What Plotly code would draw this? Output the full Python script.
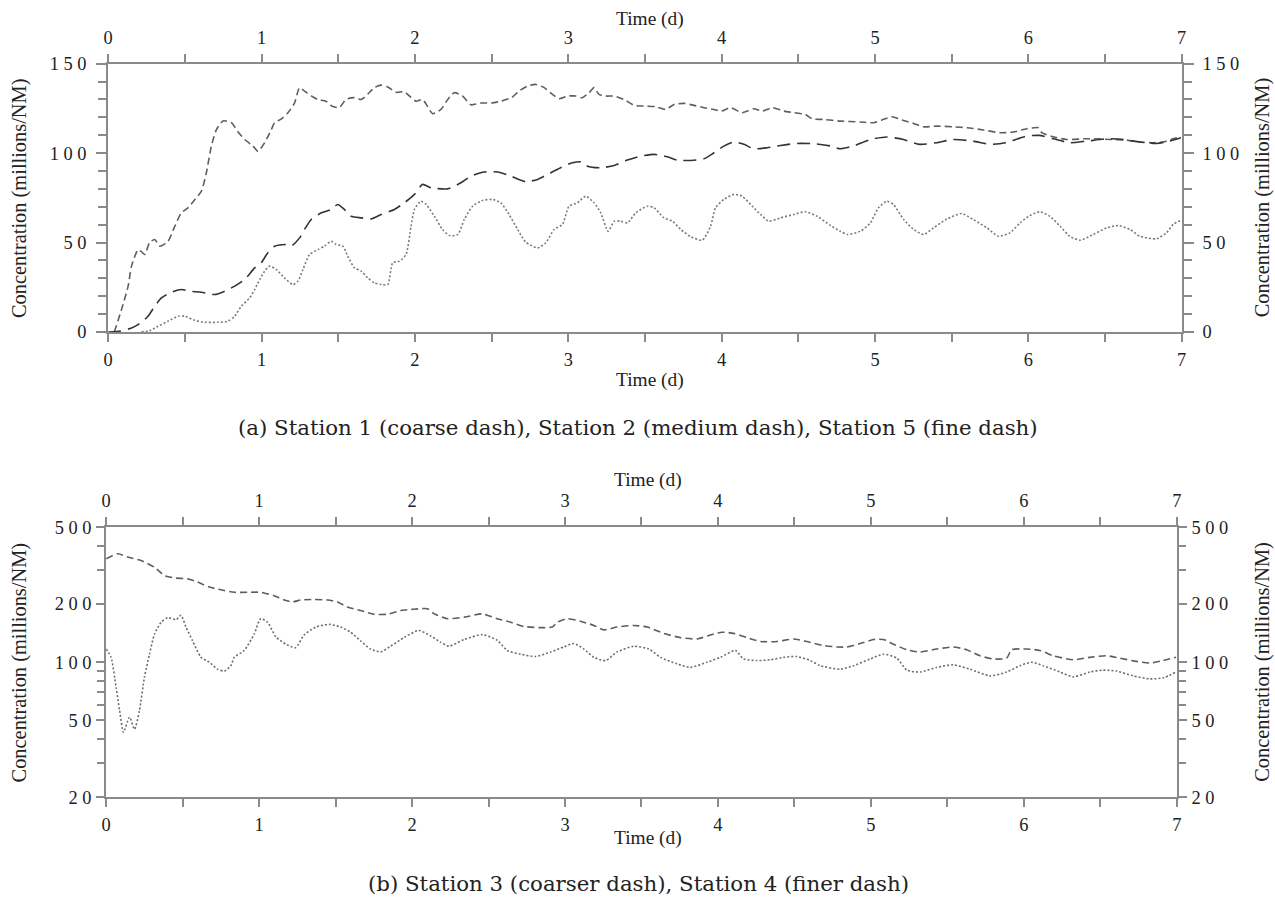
import plotly.graph_objects as go

# ---------------- Panel (a): stations 1, 2 and 5 (linear scale) ----------------
t_s1 = [0.04, 0.087, 0.13, 0.152, 0.195, 0.215, 0.239, 0.27, 0.304, 0.336, 0.39, 0.434, 0.477,
        0.52, 0.564, 0.608, 0.64, 0.673, 0.705, 0.749, 0.803, 0.846, 0.89, 0.944, 0.977, 1.02,
        1.063, 1.085, 1.128, 1.172, 1.215, 1.248, 1.28, 1.324, 1.367, 1.42, 1.465, 1.508, 1.55,
        1.6, 1.65, 1.693, 1.736, 1.78, 1.823, 1.877, 1.93, 1.964, 2.007, 2.05, 2.083, 2.116,
        2.17, 2.214, 2.257, 2.31, 2.365, 2.43, 2.5, 2.56, 2.63, 2.68, 2.735, 2.79, 2.843, 2.897,
        2.94, 2.995, 3.05, 3.09, 3.136, 3.168, 3.2, 3.245, 3.3, 3.363, 3.43, 3.494, 3.57, 3.635,
        3.69, 3.754, 3.82, 3.884, 3.95, 4.0, 4.058, 4.134, 4.21, 4.264, 4.33, 4.405, 4.47, 4.546,
        4.59, 4.666, 4.774, 4.905, 4.991, 5.046, 5.11, 5.176, 5.252, 5.317, 5.404, 5.512, 5.6,
        5.708, 5.816, 5.903, 5.99, 6.066, 6.088, 6.163, 6.25, 6.36, 6.447, 6.534, 6.64, 6.727,
        6.814, 6.879, 6.944, 6.995]
c_s1 = [0, 12.5, 25.6, 36.8, 46, 45, 43.3, 50, 51.7, 48, 50.7, 59, 66.6,
        69.4, 73.9, 78.7, 89, 104, 113, 118, 117, 112, 107.6, 104, 101, 105.8,
        113, 117, 119, 122.6, 128, 136.6, 134.7, 132, 130, 129, 126, 125.5, 130,
        131, 130, 133, 136.6, 138, 137, 134, 134.3, 132, 129, 130, 126, 122,
        124.4, 130, 133.8, 132, 127, 128, 128, 129, 131, 134.7, 137.5, 138.4, 136.6, 132.8,
        130.4, 131.9, 131.9, 131, 133.8, 136.6, 132.8, 131.9, 131.9, 130, 126.7, 126.3, 126, 124.4,
        127.2, 127.8, 126.7, 125.4, 124.4, 123.5, 125.4, 122.6, 124.8, 123.5, 125.4, 123.5, 122.6, 121.6,
        119.2, 118.8, 117.9, 117.4, 117, 118.5, 120.3, 118.5, 116.6, 114.7, 115.1, 114.7, 114.2,
        112.9, 111.4, 111.8, 113.6, 114.2, 111.4, 109.1, 107.6, 108, 108, 107.6, 107.3, 106.2,
        105.8, 106.2, 108, 109.1]

t_s2 = [0.0, 0.08, 0.152, 0.195, 0.26, 0.304, 0.347, 0.412, 0.477, 0.53, 0.608, 0.694, 0.76,
        0.825, 0.89, 0.955, 0.998, 1.04, 1.085, 1.15, 1.194, 1.248, 1.28, 1.324, 1.39, 1.454,
        1.497, 1.54, 1.584, 1.65, 1.714, 1.78, 1.866, 1.931, 1.997, 2.05, 2.105, 2.214, 2.3,
        2.365, 2.452, 2.54, 2.626, 2.723, 2.8, 2.865, 2.95, 3.027, 3.09, 3.125, 3.212, 3.3,
        3.385, 3.472, 3.56, 3.646, 3.71, 3.8, 3.884, 3.95, 4.015, 4.08, 4.145, 4.21, 4.297,
        4.384, 4.493, 4.61, 4.71, 4.774, 4.86, 4.97, 5.077, 5.186, 5.29, 5.4, 5.51, 5.64,
        5.75, 5.85, 5.99, 6.07, 6.163, 6.27, 6.38, 6.51, 6.62, 6.727, 6.836, 6.92, 6.995]
c_s2 = [0, 0.5, 2.2, 4.1, 8.8, 14.4, 19, 22.2, 23.7, 22.8, 22.2, 20.9, 22.8,
        25.6, 29.3, 35.8, 38.6, 44.2, 47.9, 48.9, 48, 52.6, 57.3, 62.9, 66.6, 68.5,
        71.3, 68.5, 64.7, 63.8, 63.2, 65.7, 68.5, 72.2, 76.9, 82.5, 80.6, 80, 83.4,
        87.1, 89.4, 89.4, 87.1, 84, 85.3, 88.1, 91.8, 94.6, 95.1, 92.7, 91.8, 93.1,
        96.1, 98.3, 99.3, 98, 96.1, 95.9, 96.8, 100.2, 103.9, 106.2, 104.9, 102.4, 103,
        104.3, 105.4, 105.2, 104, 102.4, 104, 107.6, 109, 107.6, 104.9, 105.8, 107.6, 106.7,
        104.9, 105.8, 109.5, 109.9, 108, 105.8, 106.7, 108, 107.6, 106.2, 105.4, 106.7, 108.6]

t_s5 = [0.217, 0.27, 0.326, 0.39, 0.456, 0.5, 0.564, 0.629, 0.716, 0.78, 0.825, 0.868, 0.922,
        0.955, 0.988, 1.02, 1.052, 1.096, 1.15, 1.204, 1.237, 1.27, 1.313, 1.367, 1.41, 1.454,
        1.486, 1.53, 1.562, 1.606, 1.65, 1.693, 1.736, 1.78, 1.823, 1.855, 1.9, 1.942, 1.975,
        1.997, 2.04, 2.073, 2.127, 2.18, 2.226, 2.28, 2.322, 2.376, 2.44, 2.506, 2.56, 2.614,
        2.67, 2.723, 2.8, 2.853, 2.908, 2.962, 3.005, 3.06, 3.114, 3.168, 3.212, 3.26, 3.3,
        3.342, 3.386, 3.44, 3.516, 3.56, 3.624, 3.68, 3.733, 3.8, 3.874, 3.928, 3.96, 4.015,
        4.08, 4.134, 4.2, 4.254, 4.308, 4.384, 4.47, 4.546, 4.622, 4.71, 4.774, 4.818, 4.905,
        4.97, 5.023, 5.077, 5.12, 5.187, 5.252, 5.317, 5.382, 5.47, 5.566, 5.64, 5.73, 5.805,
        5.88, 5.946, 6.01, 6.076, 6.14, 6.207, 6.27, 6.337, 6.424, 6.51, 6.587, 6.663, 6.727,
        6.836, 6.9, 6.944, 6.995]
c_s5 = [0, 0.7, 3.2, 6, 8.8, 8.8, 6.5, 5.4, 5.4, 6, 8.8, 14.4, 19,
        23.7, 29.3, 34, 36.8, 34.9, 30.2, 26.5, 28.4, 34.9, 43.3, 46, 48, 50.7,
        48.9, 48, 42.4, 35.8, 34, 30.2, 27.4, 26.5, 26.5, 38.6, 39.6, 43.3, 59.1,
        68.5, 73.1, 71.3, 64.7, 57.3, 53.9, 54.5, 62.9, 70.3, 73.5, 74.1, 72.2, 65.7,
        57.3, 50.2, 47, 49.8, 57.3, 60.1, 70.3, 72.2, 75.9, 72.2, 66.6, 56.3, 61.9,
        61.9, 61, 66.6, 70.3, 69.4, 63.8, 61.9, 57.3, 53.2, 51.3, 59.1, 69.4, 74.1,
        76.9, 75.9, 70.3, 65.7, 61.9, 63.8, 65.7, 67.2, 64.7, 59.5, 56.3, 54.5, 56.3,
        61, 69.4, 73.1, 71.3, 62.9, 57.3, 54.5, 58.2, 63.2, 66.2, 62.9, 58.2, 53.5,
        55.4, 61, 65.1, 67.2, 64.7, 59.1, 53.5, 51.3, 54.5, 58.2, 59.5, 57.3, 53.5,
        52.1, 55.4, 60.1, 62.5]

# ---------------- Panel (b): stations 3 and 4 (log scale) ----------------
t_s3 = [0.0, 0.076, 0.141, 0.228, 0.316, 0.38, 0.446, 0.533, 0.598, 0.674, 0.75, 0.837, 0.924,
        1.01, 1.098, 1.164, 1.217, 1.272, 1.358, 1.448, 1.512, 1.577, 1.663, 1.75, 1.837, 1.924,
        2.011, 2.1, 2.145, 2.231, 2.34, 2.459, 2.557, 2.645, 2.732, 2.841, 2.916, 2.95, 3.015,
        3.1, 3.189, 3.254, 3.34, 3.45, 3.537, 3.646, 3.755, 3.864, 3.961, 4.027, 4.103, 4.19,
        4.279, 4.386, 4.495, 4.58, 4.69, 4.778, 4.843, 4.93, 5.017, 5.082, 5.148, 5.235, 5.322,
        5.43, 5.539, 5.626, 5.713, 5.8, 5.888, 5.92, 6.019, 6.106, 6.193, 6.324, 6.432, 6.541,
        6.628, 6.737, 6.824, 6.911, 6.995]
c_s3 = [343, 364, 350, 336, 310, 281, 273, 270, 260, 245, 237, 230, 230,
        230, 221, 210, 205, 210, 211, 210, 205, 193, 185, 177, 177, 185,
        188, 189, 178, 168, 171, 178, 168, 161, 153, 151, 152, 161, 168,
        163, 155, 147, 152, 155, 152, 141, 134, 132, 139, 143, 141, 134,
        128, 128, 132, 128, 122, 120, 120, 125, 131, 131, 124, 116, 113,
        117, 120, 116, 108, 104, 105, 116, 117, 115, 108, 103, 106, 108,
        105, 101, 99, 102, 106]

t_s4 = [0.0, 0.032, 0.065, 0.088, 0.113, 0.152, 0.185, 0.217, 0.25, 0.283, 0.316, 0.359, 0.402,
        0.457, 0.489, 0.522, 0.565, 0.62, 0.674, 0.728, 0.772, 0.815, 0.837, 0.902, 0.968, 1.01,
        1.055, 1.11, 1.175, 1.239, 1.293, 1.37, 1.458, 1.533, 1.598, 1.663, 1.729, 1.794, 1.86,
        1.946, 2.044, 2.12, 2.186, 2.24, 2.34, 2.459, 2.557, 2.622, 2.71, 2.809, 2.906, 2.993,
        3.058, 3.124, 3.189, 3.265, 3.34, 3.45, 3.548, 3.624, 3.733, 3.82, 3.929, 4.016, 4.114,
        4.168, 4.255, 4.343, 4.43, 4.516, 4.604, 4.669, 4.8, 4.887, 4.996, 5.083, 5.17, 5.235,
        5.322, 5.43, 5.539, 5.648, 5.779, 5.888, 5.975, 6.051, 6.127, 6.236, 6.324, 6.432, 6.519,
        6.606, 6.715, 6.824, 6.911, 6.995]
c_s4 = [117, 106, 74, 56, 43.4, 52, 45, 56, 83.6, 110, 140, 161, 170,
        166, 175, 152, 129, 106, 100, 92, 90, 96, 106, 115, 140, 168,
        161, 135, 124, 119, 138, 152, 157, 152, 143, 129, 117, 113, 121,
        134, 146, 137, 127, 121, 131, 139, 130, 115, 110, 107, 113, 120,
        125, 117, 106, 102, 113, 121, 117, 106, 98, 94, 100, 106, 115,
        104, 102, 103, 106, 107, 102, 96, 92, 96, 104, 110, 105, 91,
        89, 94, 97, 92, 85, 89, 96, 100, 96, 89, 84, 89, 91,
        90, 85, 82, 83, 89]

# ---------------- Axis ticks ----------------
day_ticks = [0, 1, 2, 3, 4, 5, 6, 7]
day_minor = [0.5, 1.5, 2.5, 3.5, 4.5, 5.5, 6.5]
lin_ticks = [0, 50, 100, 150]
lin_labels = ["0", "5 0", "1 0 0", "1 5 0"]
lin_minor = [10, 20, 30, 40, 60, 70, 80, 90, 110, 120, 130, 140]
log_ticks = [20, 50, 100, 200, 500]
log_labels = ["2 0", "5 0", "1 0 0", "2 0 0", "5 0 0"]
log_minor = [30, 40, 60, 70, 80, 90, 300, 400]

W, H = 1275, 906
AXIS = "#8a8a8a"
TXT = "#222222"
TICKFONT = dict(family="Liberation Serif", size=18.4, color=TXT)


def px_x(p):
    return p / W


def px_y(p):
    return (H - p) / H


def time_axis(domain, anchor, side, standoff, overlay=None):
    ax = dict(domain=domain, anchor=anchor, side=side, range=[0, 7],
              tickmode="array", tickvals=day_ticks, ticktext=[str(d) for d in day_ticks],
              ticks="outside", ticklen=8, tickwidth=1.5, tickcolor=AXIS,
              minor=dict(tickmode="array", tickvals=day_minor, ticks="outside", ticklen=8,
                         tickwidth=1.5, tickcolor=AXIS, showgrid=False),
              showline=True, linecolor=AXIS, linewidth=2, showgrid=False, zeroline=False,
              tickfont=TICKFONT, ticklabelstandoff=standoff, fixedrange=True)
    if overlay:
        ax["overlaying"] = overlay
    return ax


def conc_axis(domain, anchor, side, kind, ticklen, standoff, overlay=None):
    if kind == "log":
        ax = dict(type="log", range=[1.30103, 2.69897], tickvals=log_ticks, ticktext=log_labels,
                  minor=dict(tickmode="array", tickvals=log_minor, ticks="outside",
                             ticklen=ticklen - 1, tickwidth=1.5, tickcolor=AXIS, showgrid=False))
    else:
        ax = dict(type="linear", range=[0, 150], tickvals=lin_ticks, ticktext=lin_labels,
                  minor=dict(tickmode="array", tickvals=lin_minor, ticks="outside",
                             ticklen=ticklen - 2, tickwidth=1.5, tickcolor=AXIS, showgrid=False))
    ax.update(domain=domain, anchor=anchor, side=side, tickmode="array",
              ticks="outside", ticklen=ticklen, tickwidth=1.5, tickcolor=AXIS,
              showline=True, linecolor=AXIS, linewidth=2, showgrid=False, zeroline=False,
              tickfont=TICKFONT, ticklabelstandoff=standoff, fixedrange=True)
    if overlay:
        ax["overlaying"] = overlay
    return ax


xa_dom = [px_x(104), px_x(1186)]
ya_dom = [px_y(329.2), px_y(54.9)]
xb_dom = [px_x(102), px_x(1181)]
yb_dom = [px_y(805.1), px_y(528.8)]

fig = go.Figure()


def curve(t, c, color, dash, xa, ya, name):
    fig.add_trace(go.Scatter(x=t, y=c, mode="lines", name=name, xaxis=xa, yaxis=ya,
                             line=dict(color=color, width=1.6, dash=dash, shape="spline",
                                       smoothing=0.6),
                             hoverinfo="skip", showlegend=False))


curve(t_s1, c_s1, "#5e5e5e", "7px,4px", "x", "y", "Station 1")
curve(t_s2, c_s2, "#333333", "13px,7px", "x", "y", "Station 2")
curve(t_s5, c_s5, "#7a7a7a", "2px,2px", "x", "y", "Station 5")
curve(t_s3, c_s3, "#5e5e5e", "7px,4px", "x3", "y3", "Station 3")
curve(t_s4, c_s4, "#6e6e6e", "2px,2px", "x3", "y3", "Station 4")

# invisible carriers so the top and right duplicate axes get drawn
fig.add_trace(go.Scatter(x=[0, 7], y=[0, 0], xaxis="x2", yaxis="y2", mode="lines",
                         opacity=0, hoverinfo="skip", showlegend=False))
fig.add_trace(go.Scatter(x=[0, 7], y=[100, 100], xaxis="x4", yaxis="y4", mode="lines",
                         opacity=0, hoverinfo="skip", showlegend=False))

fig.update_layout(
    width=W, height=H, margin=dict(l=0, r=0, t=0, b=0),
    paper_bgcolor="white", plot_bgcolor="white", showlegend=False,
    xaxis=time_axis(xa_dom, "y", "bottom", 2),
    xaxis2=time_axis(xa_dom, "y2", "top", 2, overlay="x"),
    yaxis=conc_axis(ya_dom, "x", "left", "lin", 10, 6),
    yaxis2=conc_axis(ya_dom, "x2", "right", "lin", 10, 5, overlay="y"),
    xaxis3=time_axis(xb_dom, "y3", "bottom", 2),
    xaxis4=time_axis(xb_dom, "y4", "top", 3, overlay="x3"),
    yaxis3=conc_axis(yb_dom, "x3", "left", "log", 8, 1),
    yaxis4=conc_axis(yb_dom, "x4", "right", "log", 8, 1, overlay="y3"),
)

TITLE = dict(family="Liberation Serif", size=19.4, color=TXT)
YTITLE = dict(family="Liberation Serif", size=20.4, color=TXT)
CAPTION = dict(family="DejaVu Serif", size=21.3, color=TXT)
ylabel = "Concentration (millions/NM)"

notes = [
    (650.5, 8.8, "Time (d)", TITLE, 0),
    (650.5, 378.3, "Time (d)", TITLE, 0),
    (14.4, 192.0, ylabel, YTITLE, -90),
    (1267.5, 192.0, ylabel, YTITLE, -90),
    (637.5, 427.4, "(a) Station 1 (coarse dash), Station 2 (medium dash), Station 5 (fine dash)", CAPTION, 0),
    (648.5, 480.7, "Time (d)", TITLE, 0),
    (648.5, 847.1, "Time (d)", TITLE, 0),
    (14.4, 666.9, ylabel, YTITLE, -90),
    (1267.5, 666.9, ylabel, YTITLE, -90),
    (638.5, 893.2, "(b) Station 3 (coarser dash), Station 4 (finer dash)", CAPTION, 0),
]
for x, y, text, font, ang in notes:
    fig.add_annotation(x=px_x(x), y=px_y(y), xref="paper", yref="paper", text=text,
                       showarrow=False, font=font, textangle=ang,
                       xanchor="center", yanchor="middle")

fig.write_html("out.html")
